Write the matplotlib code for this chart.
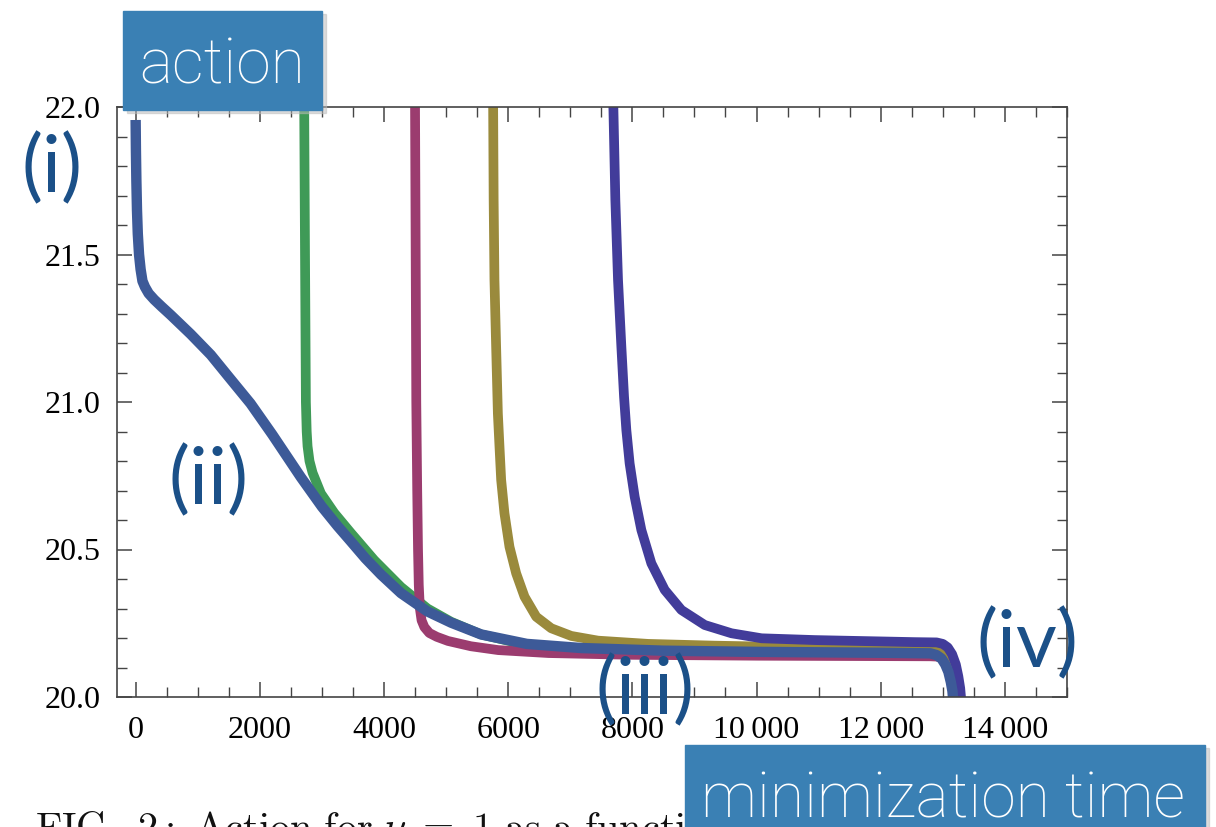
import numpy as np
import matplotlib
matplotlib.use('Agg')
import matplotlib.pyplot as plt
from matplotlib.ticker import MultipleLocator, FuncFormatter
from matplotlib.patches import Rectangle

# curves (minimization time, action)
x_blue = [0, 5, 12, 22, 35, 55, 80, 110, 150, 210, 300, 420, 565, 887, 1210, 1500, 1850,
          2200, 2661, 3000, 3250, 3468, 3700, 3952, 4274, 4700, 5081, 5565, 6300, 7177, 8500,
          10000, 12000, 12800, 12900, 12980, 13040, 13090, 13130, 13155, 13175]
y_blue = [21.956, 21.85, 21.75, 21.65, 21.57, 21.50, 21.45, 21.41, 21.39, 21.368, 21.347,
          21.323, 21.295, 21.23, 21.16, 21.085, 20.995, 20.89, 20.745, 20.645, 20.58, 20.527,
          20.47, 20.415, 20.352, 20.29, 20.252, 20.212, 20.18, 20.166, 20.157, 20.153, 20.15,
          20.148, 20.142, 20.13, 20.11, 20.085, 20.05, 20.02, 19.97]

x_green = [2712, 2715, 2728, 2742, 2755, 2769, 2800, 2850, 2984, 3199, 3468, 3844, 4274,
           4700, 5081, 5565, 6300, 7177, 8500, 10000, 12800, 12900, 13000, 13080, 13140,
           13190, 13220, 13240]
y_green = [22.3, 22.0, 21.5, 21.0, 20.9, 20.85, 20.80, 20.76, 20.69, 20.624, 20.556, 20.464,
           20.373, 20.30, 20.255, 20.212, 20.176, 20.16, 20.148, 20.145, 20.143, 20.142,
           20.137, 20.12, 20.095, 20.055, 20.02, 19.97]

x_mag = [4495, 4500, 4510, 4520, 4535, 4548, 4560, 4578, 4605, 4650, 4730, 4850, 5030, 5400,
         5840, 6650, 8000, 10000, 12800, 12900, 13000, 13080, 13140, 13190, 13215, 13230]
y_mag = [22.3, 22.0, 21.5, 21.0, 20.7, 20.5, 20.38, 20.30, 20.26, 20.237, 20.217, 20.204,
         20.19, 20.172, 20.159, 20.149, 20.143, 20.14, 20.138, 20.137, 20.132, 20.115, 20.09,
         20.05, 20.02, 19.97]

x_olive = [5755, 5758, 5766, 5779, 5806, 5834, 5860, 5887, 5940, 6021, 6129, 6263, 6452,
           6694, 7016, 7447, 8253, 9327, 10081, 11000, 12900, 13000, 13080, 13150, 13200,
           13240, 13265, 13280]
y_olive = [22.3, 22.0, 21.685, 21.414, 21.187, 20.961, 20.849, 20.736, 20.623, 20.509,
           20.419, 20.340, 20.272, 20.233, 20.207, 20.191, 20.180, 20.174, 20.171, 20.168,
           20.166, 20.16, 20.148, 20.125, 20.09, 20.05, 20.01, 19.97]

x_ind = [7690, 7694, 7726, 7769, 7823, 7866, 7903, 7956, 8037, 8145, 8306, 8521, 8790, 9166,
         9597, 10081, 10935, 12548, 12900, 13000, 13080, 13150, 13210, 13250, 13280, 13305]
y_ind = [22.3, 22.0, 21.685, 21.414, 21.187, 21.018, 20.905, 20.792, 20.679, 20.566, 20.453,
         20.363, 20.295, 20.244, 20.216, 20.199, 20.193, 20.186, 20.185, 20.18, 20.168, 20.145,
         20.11, 20.07, 20.03, 19.97]

fig = plt.figure(figsize=(12.16, 8.27), dpi=100)
ax = fig.add_axes([117/1216, 1-697/827, (1067-117)/1216, (697-107)/827])

ax.plot(x_green, y_green, color='#3f9a57', lw=7, solid_joinstyle='round')
ax.plot(x_mag, y_mag, color='#9b3c6f', lw=7, solid_joinstyle='round')
ax.plot(x_olive, y_olive, color='#9a8a3c', lw=7, solid_joinstyle='round')
ax.plot(x_ind, y_ind, color='#423c9a', lw=7, solid_joinstyle='round')
ax.plot(x_blue, y_blue, color='#3d5a98', lw=7.5, solid_joinstyle='round', solid_capstyle='butt')

ax.set_xlim(-300, 15000)
ax.set_ylim(20.0, 22.0)
ax.xaxis.set_major_locator(MultipleLocator(2000))
ax.xaxis.set_minor_locator(MultipleLocator(500))
ax.yaxis.set_major_locator(MultipleLocator(0.5))
ax.yaxis.set_minor_locator(MultipleLocator(0.1))

def xfmt(v, pos):
    v = int(round(v))
    if v >= 10000:
        return '{:,}'.format(v).replace(',', '\u2009')
    return str(v)

ax.xaxis.set_major_formatter(FuncFormatter(xfmt))
ax.yaxis.set_major_formatter(FuncFormatter(lambda v, p: '%.1f' % v))

for s in ax.spines.values():
    s.set_color('#444444')
    s.set_linewidth(1.2)
ax.tick_params(which='both', direction='in', top=True, right=True, color='#444444')
ax.tick_params(which='major', length=11, width=1.1)
ax.tick_params(which='minor', length=7, width=1.0)
ax.tick_params(axis='x', pad=14)
ax.tick_params(axis='y', pad=12)
for lab in ax.get_xticklabels() + ax.get_yticklabels():
    lab.set_family(['Liberation Serif', 'DejaVu Serif'])
    lab.set_fontsize(23)

# annotation labels
lab_col = '#1b5088'
lab_font = ['Lato', 'DejaVu Sans']
for txt, px, py in [('(i)', 52, 170), ('(ii)', 208, 482), ('(iii)', 645, 692), ('(iv)', 1027, 645)]:
    fig.text(px/1216, 1-py/827, txt, color=lab_col, fontsize=57, family=lab_font,
             ha='center', va='center', zorder=5)

# caption (mostly cut off by the page edge)
plt.rcParams['mathtext.fontset'] = 'cm'
fig.text(35/1216, -13/827,
         r'$\mathrm{FIG.\ 2{:}\ Action\ for\ }\nu\ =\ 1\mathrm{\ as\ a\ functio}$',
         fontsize=29, ha='left', va='baseline', color='#111111')

# blue boxes
box_col = '#3a80b4'
for (x0, y0, x1, y1) in [(123, 11, 322, 110), (685, 745, 1205, 830)]:
    fig.patches.append(Rectangle((x0/1216 + 0.003, 1-y1/827 - 0.004), (x1-x0)/1216, (y1-y0)/827,
                                 transform=fig.transFigure, color='#bbbbbb', alpha=0.5, zorder=9))
    fig.patches.append(Rectangle((x0/1216, 1-y1/827), (x1-x0)/1216, (y1-y0)/827,
                                 transform=fig.transFigure, color=box_col, zorder=10))
box_font = ['Roboto', 'DejaVu Sans']
fig.text(222/1216, 1-66/827, 'action', color='white', fontsize=45, family=box_font,
         fontweight='light', ha='center', va='center', zorder=11)
fig.text(943/1216, 1-800/827, 'minimization time', color='white', fontsize=45, family=box_font,
         fontweight='light', ha='center', va='center', zorder=11)

fig.savefig('out.png', dpi=100)
